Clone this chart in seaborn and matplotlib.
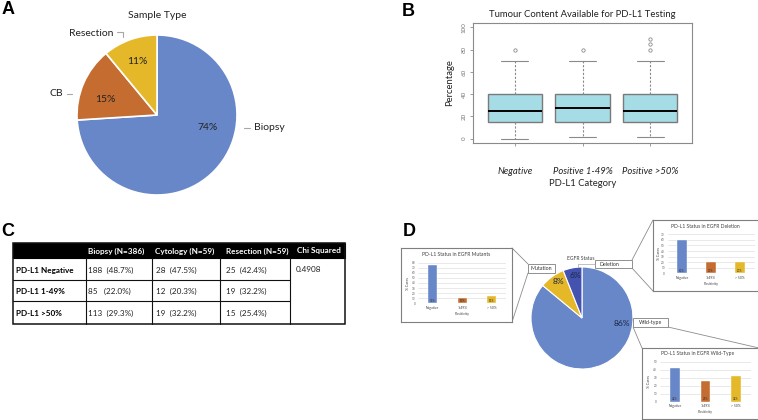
import numpy as np
import pandas as pd
import matplotlib
matplotlib.use("Agg")
import matplotlib.pyplot as plt
from matplotlib.patches import Rectangle
import seaborn as sns

sns.set_theme(style="white")
plt.rcParams['font.family'] = ['Lato', 'DejaVu Sans']

# ---------------- data ----------------
sample_types = ["Biopsy", "CB", "Resection"]
sample_pct = [74, 15, 11]

pdl1_categories = ["Negative", "Positive 1-49%", "Positive >50%"]
box_q1 = [15, 15, 15]
box_median = [25, 27.5, 25]
box_q3 = [40, 40, 40]
box_whisk_lo = [0, 1, 1]
box_whisk_hi = [70, 70, 70]
box_outliers = [[80], [80], [80, 85, 90]]

table_columns = ["Biopsy (N=386)", "Cytology (N=59)", "Resection (N=59)", "Chi Squared"]
table_rows = ["PD-L1 Negative", "PD-L1 1-49%", "PD-L1 >50%"]
biopsy_n = [188, 85, 113]
biopsy_pct = [48.7, 22.0, 29.3]
cytology_n = [28, 12, 19]
cytology_pct = [47.5, 20.3, 32.2]
resection_n = [25, 19, 15]
resection_pct = [42.4, 32.2, 25.4]
chi_squared = "0.4908"

egfr_status = ["Wild-type", "Mutation", "Deletion"]
egfr_pct = [86, 8, 6]

positivity = ["Negative", "1-49%", "> 50%"]
mutants_pct = [75, 10, 15]
deletion_pct = [60, 20, 20]
wildtype_pct = [42, 26, 32]

# ---------------- style ----------------
BLUE = "#6787C8"
ORANGE = "#C56D30"
YELLOW = "#E5B82A"
DARKBLUE = "#4453B0"
BOXFILL = "#A6DCE6"

W, H = 758, 420
fig = plt.figure(figsize=(W / 100, H / 100), dpi=100)


def rect(x0, y0, x1, y1):
    return [x0 / W, 1 - y1 / H, (x1 - x0) / W, (y1 - y0) / H]


# back overlay (connectors)
ovb = fig.add_axes([0, 0, 1, 1], zorder=-1)
ovb.set_xlim(0, W); ovb.set_ylim(H, 0); ovb.axis('off')

# ---------------- Panel A ----------------
def pie_axes(cx, cy, r, pad=1.3):
    ax = fig.add_axes(rect(cx - r * pad, cy - r * pad, cx + r * pad, cy + r * pad))
    return ax

axA = pie_axes(157, 115, 80)
axA.pie(sample_pct, colors=[BLUE, ORANGE, YELLOW], startangle=90, counterclock=False,
        wedgeprops=dict(edgecolor='white', linewidth=1.2))
axA.set_xlim(-1.3, 1.3); axA.set_ylim(-1.3, 1.3); axA.set_aspect('equal')

# ---------------- Panel B ----------------
axB = fig.add_axes(rect(473, 23, 692, 143))
stats = []
for i, c in enumerate(pdl1_categories):
    stats.append(dict(label=c, med=box_median[i], q1=box_q1[i], q3=box_q3[i],
                      whislo=box_whisk_lo[i], whishi=box_whisk_hi[i],
                      fliers=np.array(box_outliers[i])))
gray = "#8a8a8a"
axB.bxp(stats, positions=[0, 1, 2], widths=0.8, capwidths=0.4, patch_artist=True,
        manage_ticks=False,
        boxprops=dict(facecolor=BOXFILL, edgecolor="#7a7a7a", linewidth=1.0),
        medianprops=dict(color='black', linewidth=1.4),
        whiskerprops=dict(color=gray, linestyle=(0, (2, 1.5)), linewidth=0.8),
        capprops=dict(color=gray, linewidth=0.8),
        flierprops=dict(marker='o', markersize=2.4, markerfacecolor='none',
                        markeredgecolor=gray, markeredgewidth=0.6))
axB.set_xlim(-0.62, 2.62)
axB.set_ylim(-4, 104)
axB.set_yticks(range(0, 101, 20))
axB.set_yticklabels([str(v) for v in range(0, 101, 20)], rotation=90, va='center',
                    fontsize=4.5, color='#777777')
axB.set_xticks([0, 1, 2])
axB.set_xticklabels(pdl1_categories, fontsize=6.8, style='italic', color='#222222')
axB.tick_params(axis='x', length=2.5, width=0.6, color=gray, pad=15, direction='out', bottom=True)
axB.tick_params(axis='y', length=2.5, width=0.6, color=gray, pad=2, direction='out', left=True)
for s in axB.spines.values():
    s.set_color('#8a8a8a'); s.set_linewidth(0.8)
axB.set_xlabel("PD-L1 Category", fontsize=6.8, color='#222222', va='center')
axB.xaxis.set_label_coords(0.5, -(183 - 143) / 120)
axB.set_ylabel("Percentage", fontsize=6.8, color='#222222', va='center')
axB.yaxis.set_label_coords(-(473 - 450) / 219, 0.5)
axB.set_title("Tumour Content Available for PD-L1 Testing", fontsize=6.8, color='#222222', pad=4)

# ---------------- Panel D ----------------
axD = pie_axes(582, 318, 51)
axD.pie(egfr_pct, colors=[BLUE, YELLOW, DARKBLUE], startangle=90, counterclock=False,
        wedgeprops=dict(edgecolor='white', linewidth=0.8))
axD.set_xlim(-1.3, 1.3); axD.set_ylim(-1.3, 1.3); axD.set_aspect('equal')

pal = {positivity[0]: BLUE, positivity[1]: ORANGE, positivity[2]: YELLOW}


def inset(box, plot, title, title_xy, values, ymax, label_y, xlabel_y, ylabel_x):
    fr = fig.add_axes(rect(*box))
    fr.set_xticks([]); fr.set_yticks([])
    fr.set_facecolor('white')
    for s in fr.spines.values():
        s.set_color('#7f7f7f'); s.set_linewidth(0.8)
    ax = fig.add_axes(rect(*plot))
    df = pd.DataFrame({"Positivity": positivity, "pct": values})
    sns.barplot(data=df, x="Positivity", y="pct", hue="Positivity", palette=pal,
                legend=False, width=0.32, saturation=1, ax=ax, edgecolor='white', linewidth=0.3)
    ax.set_xlim(-0.5, 2.5)
    ax.set_ylim(0, ymax)
    ax.set_yticks(range(0, ymax + 1, 10))
    ax.set_yticklabels([str(v) for v in range(0, ymax + 1, 10)], fontsize=2.2, color='#595959')
    ax.set_xticklabels(positivity, fontsize=2.4, color='#404040')
    ax.tick_params(length=0, pad=2)
    ax.grid(axis='y', color='#d9d9d9', linewidth=0.4)
    ax.set_axisbelow(True)
    for s in ax.spines.values():
        s.set_visible(False)
    ax.set_xlabel(""); ax.set_ylabel("")
    for i, v in enumerate(values):
        ax.text(i, ymax * 0.015, f"{v}%", ha='center', va='bottom', fontsize=2.0, color='#333333')
    fig.text(title_xy[0] / W, 1 - title_xy[1] / H, title, fontsize=3.6, color='#404040',
             ha='center', va='center')
    cx = (plot[0] + plot[2]) / 2
    fig.text(cx / W, 1 - xlabel_y / H, "Positivity", fontsize=2.6, color='#404040',
             ha='center', va='center')
    fig.text(ylabel_x / W, 1 - ((plot[1] + plot[3]) / 2) / H, "% Cases", fontsize=2.6,
             color='#404040', ha='center', va='center', rotation=90)
    return ax


inset((401, 248, 512, 322), (418, 262.7, 506.5, 303.3), "PD-L1 Status in EGFR Mutants",
      (456, 255), mutants_pct, 80, 308, 314, 408)
inset((653, 220, 759, 291), (667.5, 234.3, 754.5, 273.3), "PD-L1 Status in EGFR Deletion",
      (705, 227), deletion_pct, 70, 278, 284, 659)
inset((642, 348, 759, 419), (659.7, 361.7, 751.2, 401.7), "PD-L1 Status in EGFR Wild-Type",
      (698, 353), wildtype_pct, 50, 407, 412, 649)

# connectors
ccol = '#8c8c8c'
for (x0, y0, x1, y1) in [(528, 264, 512, 248), (528, 273, 512, 322),
                         (632, 260, 653, 220), (632, 268, 653, 291),
                         (633, 327, 642, 348), (668, 327, 759, 348)]:
    ovb.plot([x0, x1], [y0, y1], color=ccol, linewidth=0.6)

# ---------------- front overlay ----------------
ov = fig.add_axes([0, 0, 1, 1], zorder=10)
ov.set_xlim(0, W); ov.set_ylim(H, 0); ov.axis('off')
ov.patch.set_visible(False)

letter_font = dict(fontsize=13, fontweight='bold', family=['Liberation Sans', 'DejaVu Sans'],
                   ha='center', va='center', color='black')
ov.text(8, 9, "A", **letter_font)
ov.text(408, 11, "B", **letter_font)
ov.text(8, 232, "C", **letter_font)
ov.text(409, 232, "D", **letter_font)

# Panel A texts
txt = '#222222'
ov.text(157, 15, "Sample Type", fontsize=7.5, color=txt, ha='center', va='center')
for (x, y), v in zip([(208, 128), (105, 99), (137, 62)], sample_pct):
    ov.text(x, y, f"{v}%", fontsize=7.5, color=txt, ha='center', va='center')
lg = '#a6a6a6'
ov.text(254, 128, sample_types[0], fontsize=7.5, color=txt, ha='left', va='center')
ov.plot([244, 250], [128, 128], color=lg, linewidth=0.8)
ov.text(63, 94, sample_types[1], fontsize=7.5, color=txt, ha='right', va='center')
ov.plot([67, 72], [94, 94], color=lg, linewidth=0.8)
ov.text(113, 33, sample_types[2], fontsize=7.5, color=txt, ha='right', va='center')
ov.plot([117, 123, 123], [32, 32, 37], color=lg, linewidth=0.8)

# Panel C table
cols_x = [13, 86, 152, 220, 290, 345]
rows_y = [243, 258, 280, 301, 324]
ov.add_patch(Rectangle((cols_x[0], rows_y[0]), cols_x[-1] - cols_x[0], rows_y[1] - rows_y[0],
                       facecolor='black', edgecolor='black', linewidth=0.8))
ov.add_patch(Rectangle((cols_x[0], rows_y[0]), cols_x[-1] - cols_x[0], rows_y[-1] - rows_y[0],
                       facecolor='none', edgecolor='#111111', linewidth=1.1))
for x in cols_x[1:-1]:
    ov.plot([x, x], [rows_y[1], rows_y[-1]], color='#111111', linewidth=0.8)
for y in rows_y[2:-1]:
    ov.plot([cols_x[0], cols_x[4]], [y, y], color='#111111', linewidth=0.8)
tfs = 5.9
hx = [88, 155, 226, 297]
for x, c in zip(hx, table_columns):
    ov.text(x, 251, c, fontsize=tfs, color='white', fontweight='bold', ha='left', va='center')
row_cy = [270, 291.5, 313.5]
for i, r in enumerate(table_rows):
    ov.text(16, row_cy[i], r, fontsize=tfs, color='black', fontweight='bold', ha='left', va='center')
    ov.text(88, row_cy[i], f"{str(biopsy_n[i]).ljust(5)}({biopsy_pct[i]:.1f}%)", fontsize=tfs,
            color='#222222', ha='left', va='center')
    ov.text(156, row_cy[i], f"{cytology_n[i]}  ({cytology_pct[i]:.1f}%)", fontsize=tfs,
            color='#222222', ha='left', va='center')
    ov.text(226, row_cy[i], f"{resection_n[i]}  ({resection_pct[i]:.1f}%)", fontsize=tfs,
            color='#222222', ha='left', va='center')
ov.text(296, row_cy[0], chi_squared, fontsize=tfs, color='#222222', ha='left', va='center')

# Panel D texts
ov.text(581, 258, "EGFR Status", fontsize=3.6, color='#404040', ha='center', va='center')
ov.plot([595, 578, 578], [264, 264, 267], color=lg, linewidth=0.5)
for (x, y), v in zip([(622, 323), (558, 281), (575, 275)], egfr_pct):
    ov.text(x, y, f"{v}%", fontsize=6, color='#1c2640', ha='center', va='center')
bx = [((528, 264, 555, 273), 541.5, 'center'), ((595, 260, 632, 268), 599, 'left'),
      ((633, 318, 668, 327), 650.5, 'center')]
labels_D = [egfr_status[1], egfr_status[2], egfr_status[0]]
for ((x0, y0, x1, y1), tx, ha), lab in zip(bx, labels_D):
    ov.add_patch(Rectangle((x0, y0), x1 - x0, y1 - y0, facecolor='white', edgecolor='#7f7f7f',
                           linewidth=0.6))
    ov.text(tx, (y0 + y1) / 2, lab, fontsize=3.8, color='#333333', ha=ha, va='center')

fig.savefig("out.png", dpi=100)
